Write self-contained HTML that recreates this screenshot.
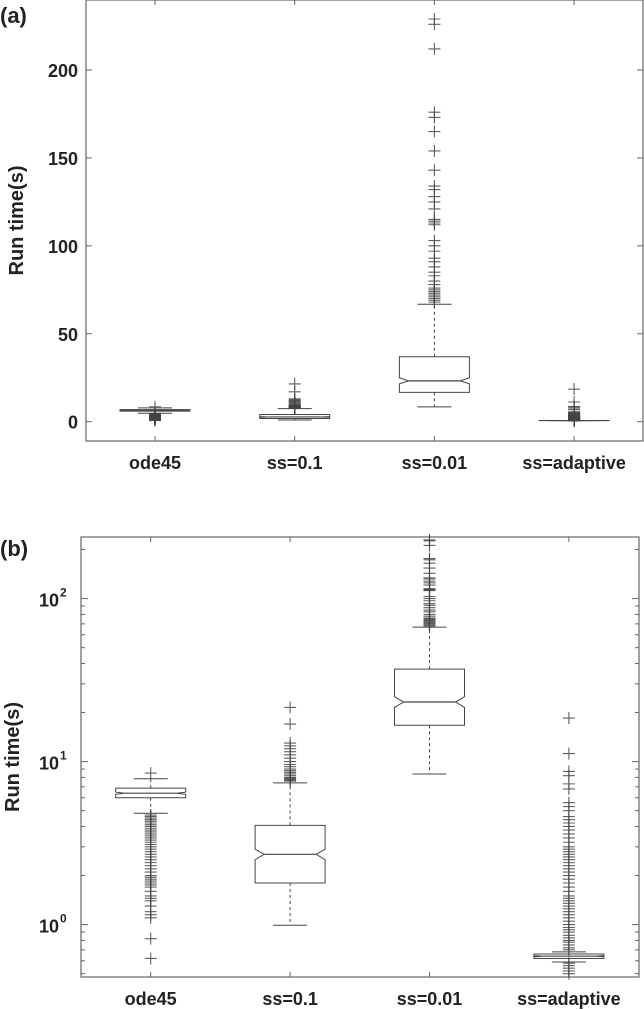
<!DOCTYPE html>
<html><head><meta charset="utf-8"><style>
html,body{margin:0;padding:0;background:#fff;}
svg{display:block;font-family:"Liberation Sans",sans-serif;}
</style></head><body>
<svg id="chart" width="644" height="1010" viewBox="0 0 644 1010" xmlns="http://www.w3.org/2000/svg">
<text x="0" y="23" font-size="22" font-weight="bold" fill="#222">(a)</text>
<text x="0" y="556" font-size="22" font-weight="bold" fill="#222">(b)</text>
<g id="pa"></g>
<g id="pb"></g>
</svg>
<script>
const categories = ["ode45","ss=0.1","ss=0.01","ss=adaptive"];
const q1 = [6.0, 1.8, 16.7, 0.62];
const med = [6.4, 2.7, 23.2, 0.64];
const q3 = [6.87, 4.06, 36.9, 0.66];
const whiskLo = [4.82, 0.99, 8.4, 0.59];
const whiskHi = [7.85, 7.4, 66.8, 0.68];
const notchLo = [6.3, 2.5, 21.5, 0.635];
const notchHi = [6.5, 2.9, 25.0, 0.645];
const outliersOde45 = [8.5,4.7,4.6,4.5,4.4,4.3,4.2,4.1,4.0,3.9,3.8,3.7,3.6,3.5,3.4,3.3,3.2,3.1,3.0,2.9,2.8,2.7,2.6,2.5,2.4,2.3,2.2,2.1,2.0,1.95,1.9,1.85,1.8,1.75,1.7,1.6,1.5,1.45,1.4,1.3,1.2,1.15,1.1,0.82,0.62];
const outliersSs01 = [7.6,7.7,7.8,7.9,8.0,8.2,8.4,8.6,8.8,9.0,9.3,9.6,10,10.5,11,11.5,12,12.5,13,17,21.5];
const outliersSs001 = [68,69,70,71,72,73,74,75,76,78,80,83,85,88,91,93,97,100,103,112,113,114,115,121,125,128,132,134,143,154,165,173,176,212,226,229];
const outliersAdaptive = [0.7,0.72,0.75,0.78,0.8,0.83,0.86,0.9,0.93,0.96,1.0,1.05,1.1,1.15,1.2,1.25,1.3,1.35,1.4,1.45,1.5,1.6,1.7,1.8,1.9,2.0,2.1,2.2,2.3,2.4,2.5,2.6,2.7,2.8,2.9,3.0,3.2,3.4,3.6,3.8,4.0,4.2,4.4,4.6,5.0,5.3,5.6,6.8,7.3,8.2,8.7,11.2,18.5,0.5,0.52,0.54,0.56,0.58];
const linTicks = [0,50,100,150,200];
const linTickLabels = ["0","50","100","150","200"];
const logTicks = [1,10,100];
const logTickExp = ["0","1","2"];

const outliers=[outliersOde45,outliersSs01,outliersSs001,outliersAdaptive];
const NS="http://www.w3.org/2000/svg";
function mk(parent,tag,attrs){const e=document.createElementNS(NS,tag);for(const k in attrs)e.setAttribute(k,attrs[k]);parent.appendChild(e);return e;}

function drawPanel(g, cfg){
  const {L,R,T,B,y,xs,isLog}=cfg;
  let fr=mk(g,'rect',{x:L,y:T,width:R-L,height:B-T,fill:'none',stroke:'#666','stroke-width':1.2});
  
  
  categories.forEach((c,i)=>{
    const x=xs(i);
    mk(g,'line',{x1:x,x2:x,y1:B,y2:B-5,stroke:'#666'});
    mk(g,'line',{x1:x,x2:x,y1:T,y2:T+5,stroke:'#666'});
    const t=mk(g,'text',{x:x,y:B+28,'text-anchor':'middle','font-size':18,'font-weight':'bold',fill:'#222'});
    t.textContent=c;
    
    
  });
  if(!isLog){
    linTicks.forEach((v,i)=>{
      const yy=y(v);
      mk(g,'line',{x1:L,x2:L+6,y1:yy,y2:yy,stroke:'#666'});
      mk(g,'line',{x1:R,x2:R-6,y1:yy,y2:yy,stroke:'#666'});
      const t=mk(g,'text',{x:L-8,y:yy+7,'text-anchor':'end','font-size':18,'font-weight':'bold',fill:'#222'});
      t.textContent=linTickLabels[i];
      
      
    });
  } else {
    logTicks.forEach((v,i)=>{
      const yy=y(v);
      mk(g,'line',{x1:L,x2:L+7,y1:yy,y2:yy,stroke:'#666'});
      mk(g,'line',{x1:R,x2:R-7,y1:yy,y2:yy,stroke:'#666'});
      const t=mk(g,'text',{x:L-22,y:yy+8,'text-anchor':'end','font-size':18,'font-weight':'bold',fill:'#222'});
      t.textContent='10';
      
      
      const s=mk(g,'text',{x:L-21,y:yy-2,'text-anchor':'start','font-size':12,'font-weight':'bold',fill:'#222'});
      s.textContent=logTickExp[i];
      
      
    });
    for(let d=0.1;d<=100;d*=10){for(let m=2;m<=9;m++){const v=d*m;const yy=y(v);if(yy<T||yy>B)continue;
      mk(g,'line',{x1:L,x2:L+4,y1:yy,y2:yy,stroke:'#666'});
      mk(g,'line',{x1:R,x2:R-4,y1:yy,y2:yy,stroke:'#666'});}}
  }
  const hw=35, cw=17, nw=26;
  categories.forEach((c,i)=>{
    const x=xs(i);
    const bg=mk(g,'g',{});
    
    
    mk(bg,'line',{x1:x,x2:x,y1:y(q3[i]),y2:y(whiskHi[i]),stroke:'#444','stroke-dasharray':'3,3'});
    mk(bg,'line',{x1:x,x2:x,y1:y(q1[i]),y2:y(whiskLo[i]),stroke:'#444','stroke-dasharray':'3,3'});
    mk(bg,'line',{x1:x-cw,x2:x+cw,y1:y(whiskHi[i]),y2:y(whiskHi[i]),stroke:'#444'});
    mk(bg,'line',{x1:x-cw,x2:x+cw,y1:y(whiskLo[i]),y2:y(whiskLo[i]),stroke:'#444'});
    const pts=[[x-hw,y(q1[i])],[x-hw,y(notchLo[i])],[x-nw,y(med[i])],[x-hw,y(notchHi[i])],[x-hw,y(q3[i])],[x+hw,y(q3[i])],[x+hw,y(notchHi[i])],[x+nw,y(med[i])],[x+hw,y(notchLo[i])],[x+hw,y(q1[i])]];
    mk(bg,'polygon',{points:pts.map(p=>p.join(',')).join(' '),fill:'#fff',stroke:'#444','stroke-width':1});
    mk(bg,'line',{x1:x-nw,x2:x+nw,y1:y(med[i]),y2:y(med[i]),stroke:'#444','stroke-width':1.2});
    outliers[i].forEach(v=>{
      const yy=y(v); if(yy<T-2||yy>B)return;
      mk(bg,'path',{d:`M${x-6},${yy}H${x+6}M${x},${yy-6}V${yy+6}`,stroke:'#444','stroke-width':1.1,'stroke-opacity':0.85});
    });
  });
  const yl=mk(g,'text',{x:0,y:0,'text-anchor':'middle','font-size':20,'font-weight':'bold',fill:'#222',transform:`translate(${cfg.ylx},${(T+B)/2}) rotate(-90)`});
  yl.textContent='Run time(s)';
  
  
}

const aL=86,aR=643,aT=0,aB=441;
const ya=v=>421.7-(v-0)*(421.7-70)/200;
const xa=i=>155+i*139.7;
drawPanel(document.getElementById('pa'),{L:aL,R:aR,T:aT,B:aB,y:ya,xs:xa,isLog:false,ylx:23});

const bL=81,bR=639,bT=537,bB=977;
const yb=v=>924.6-Math.log10(v)*163;
const xb=i=>150.7+i*139.4;
drawPanel(document.getElementById('pb'),{L:bL,R:bR,T:bT,B:bB,y:yb,xs:xb,isLog:true,ylx:19});
</script>
</body></html>
